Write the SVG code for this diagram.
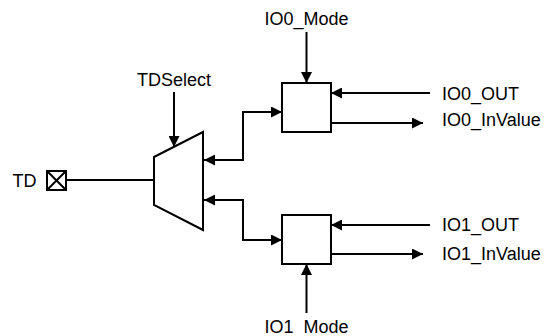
<svg xmlns="http://www.w3.org/2000/svg" width="545" height="336" viewBox="0 0 545 336">
  <style>
    text { font-family: "Liberation Sans", Arial, sans-serif; font-size: 18px; fill: #000; }
    .shape { fill: #fff; stroke: #000; stroke-width: 2; }
    .wire { fill: none; stroke: #000; stroke-width: 2; }
  </style>
  <defs>
    <marker id="arrow" viewBox="0 0 10 10" refX="10" refY="5" markerWidth="6" markerHeight="5.5" markerUnits="strokeWidth" orient="auto-start-reverse">
      <path d="M0,0 L10,5 L0,10 Z" fill="#000"/>
    </marker>
  </defs>

  <rect width="545" height="336" fill="#fff"/>

  <!-- connectors -->
  <g id="connectors">
    <path class="wire" d="M66,180 H154"/>
    <path class="wire" d="M174,92 V147" marker-end="url(#arrow)"/>
    <path class="wire" d="M204,160 H243 V112 H282" marker-start="url(#arrow)" marker-end="url(#arrow)"/>
    <path class="wire" d="M204,200 H243 V240 H282" marker-start="url(#arrow)" marker-end="url(#arrow)"/>
    <path class="wire" d="M306.5,32 V83" marker-end="url(#arrow)"/>
    <path class="wire" d="M430,93 H331" marker-end="url(#arrow)"/>
    <path class="wire" d="M331,123 H423" marker-end="url(#arrow)"/>
    <path class="wire" d="M306.5,313 V264" marker-end="url(#arrow)"/>
    <path class="wire" d="M430,225 H331" marker-end="url(#arrow)"/>
    <path class="wire" d="M331,254 H423" marker-end="url(#arrow)"/>
  </g>

  <!-- TD pad -->
  <g id="td-pad">
    <text x="12.5" y="187">TD</text>
    <rect class="shape" x="47" y="171" width="19" height="19"/>
    <path class="wire" d="M47,171 L66,190 M66,171 L47,190"/>
  </g>

  <!-- TDSelect mux -->
  <g id="mux">
    <text x="174" y="86" text-anchor="middle">TDSelect</text>
    <path class="shape" d="M154,157 L203,132 L203,230 L154,205 Z"/>
  </g>

  <!-- IO0 block -->
  <g id="io0">
    <text x="306.5" y="25" text-anchor="middle">IO0_Mode</text>
    <rect class="shape" x="282" y="83" width="49" height="49"/>
    <text x="442" y="99.5">IO0_OUT</text>
    <text x="442" y="126">IO0_InValue</text>
  </g>

  <!-- IO1 block -->
  <g id="io1">
    <rect class="shape" x="282" y="215" width="49" height="49"/>
    <text x="442" y="231">IO1_OUT</text>
    <text x="442" y="260">IO1_InValue</text>
    <text x="306.5" y="333" text-anchor="middle">IO1_Mode</text>
  </g>
</svg>
